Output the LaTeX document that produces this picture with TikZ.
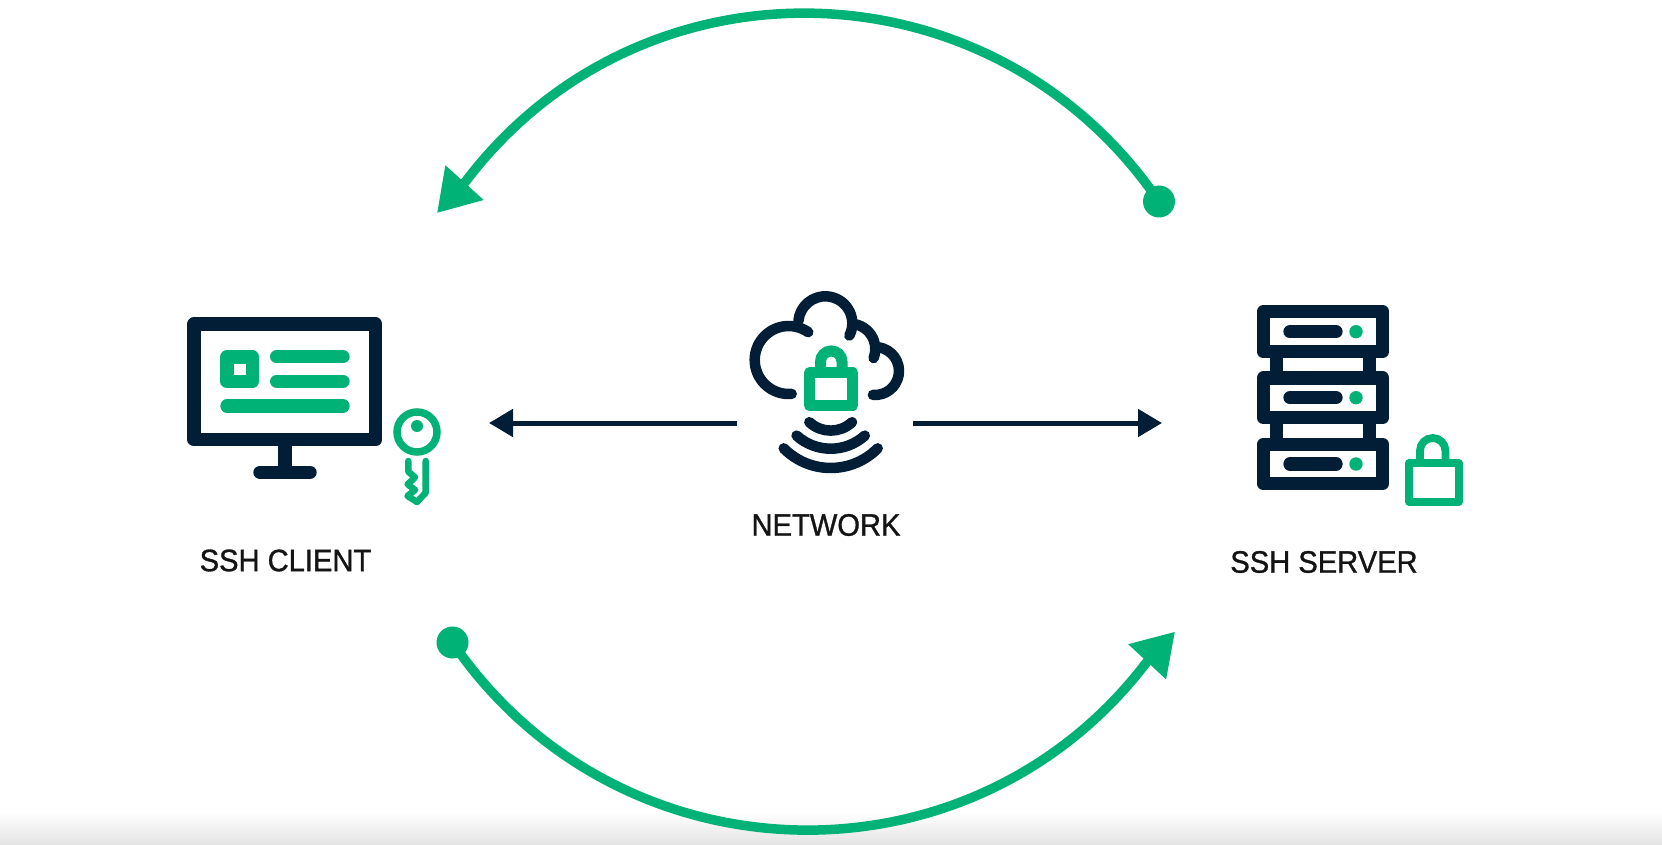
\documentclass[tikz,border=0pt]{standalone}
\usepackage{fontspec}
\setmainfont[FakeBold=1,FakeStretch=0.94]{Liberation Sans}
\usetikzlibrary{arrows.meta}
\definecolor{brandgreen}{HTML}{00B275}
\definecolor{navy}{HTML}{011E36}
\tikzset{
  labeltext/.style={font=\fontsize{31}{34}\selectfont, text=black!92, inner sep=0pt, anchor=center},
  dotend/.style={circle, fill=brandgreen, inner sep=0pt, minimum size=32pt},
  bigarc/.style={draw=brandgreen, line width=9.5pt, -{Triangle[length=41pt,width=49pt,fill=brandgreen]}},
  netarrow/.style={draw=navy, line width=5pt, -{Triangle[length=24pt,width=27pt,fill=navy]}},
  navyline/.style={draw=navy, line cap=round, line join=round},
  greenline/.style={draw=brandgreen, line cap=round, line join=round},
}
\begin{document}
\begin{tikzpicture}[x=1pt,y=1pt,yscale=-1]
\useasboundingbox (0,0) rectangle (1662,845);
\fill[white] (0,0) rectangle (1662,845);
\shade[top color=black!11,bottom color=white,shading angle=180] (0,812) rectangle (1662,845);

% ---- big green arcs
\node[dotend] (dotTop) at (1159,201.5) {};
\coordinate (tipTop) at (437,213);
\coordinate (shaftTop) at (466,181);
\draw[bigarc] (dotTop.center) .. controls (994,-41) and (642,-51) .. (shaftTop) -- (tipTop);
\node[dotend] (dotBot) at (452.5,642.5) {};
\coordinate (tipBot) at (1175,631.7);
\coordinate (shaftBot) at (1146,663);
\draw[bigarc] (dotBot.center) .. controls (617.5,884) and (969.5,894) .. (shaftBot) -- (tipBot);

% ---- labels
\node[labeltext] (clientLabel) at (285.5,560.5) {SSH CLIENT};
\node[labeltext] (networkLabel) at (826,525) {NETWORK};
\node[labeltext] (serverLabel) at (1324,562) {SSH SERVER};

% ---- network arrows
\coordinate (netL) at (737,423);
\coordinate (netR) at (913,423);
\coordinate (clientEnd) at (489,423);
\coordinate (serverEnd) at (1162,423);
\draw[netarrow] (netL) -- (clientEnd);
\draw[netarrow] (netR) -- (serverEnd);

% ---- monitor
\draw[navyline, line width=13.5pt] (194.2,324) rectangle (375.7,439.7);
\draw[navy, line width=13.4pt] (285,446) -- (285,472);
\draw[navyline, line width=13.4pt] (260,472.3) -- (310,472.3);
\draw[greenline, line width=13.4pt] (227,356.8) rectangle (252.2,381.5);
\draw[greenline, line width=13.4pt] (276.7,356.7) -- (343,356.7);
\draw[greenline, line width=13.4pt] (276.7,381.3) -- (343,381.3);
\draw[greenline, line width=13.4pt] (227,406) -- (343,406);

% ---- key
\draw[brandgreen, line width=7.5pt] (417,432) circle[radius=20];
\fill[brandgreen] (417,426) circle[radius=6];
\draw[greenline, line width=6.5pt] (425.7,461) -- (425.7,492.7) -- (417,502) -- (407.5,496)
  -- (415,490) -- (407.7,484.3) -- (415,477.3) -- (408.3,471.7) -- (408.3,461);

% ---- cloud
\draw[navyline, line width=10.5pt] (788.7,360) ++(85:34) arc[start angle=85,end angle=305,radius=34];
\draw[navyline, line width=10.5pt] (825.3,323.3) ++(185:27) arc[start angle=185,end angle=387,radius=27];
\draw[navyline, line width=10.5pt] (850,349) ++(281:25.3) arc[start angle=281,end angle=381,radius=25.3];
\draw[navyline, line width=10.5pt] (875,371) ++(280:24) arc[start angle=280,end angle=455,radius=24];
% ---- cloud lock
\fill[white] (804,367) rectangle (858,411);
\draw[greenline, line width=11pt] (809.5,372.8) rectangle (852.8,405.5);
\draw[brandgreen, line width=11pt] (820.5,372.8) -- (820.5,361.7) arc[start angle=180,end angle=360,radius=10.75] -- (842,372.8);
% ---- waves
\draw[navyline, line width=10.5pt] (830.7,399.3) ++(47:31.3) arc[start angle=47,end angle=133,radius=31.3];
\draw[navyline, line width=10.5pt] (830.7,397.7) ++(48:51) arc[start angle=48,end angle=132,radius=51];
\draw[navyline, line width=10.5pt] (830.7,402) ++(44.6:66) arc[start angle=44.6,end angle=135.4,radius=66];

% ---- server
\foreach \top/\bot/\mid in {311.7/351.7/331.7, 378/417.7/397.7, 444.3/483.7/464}{
  \draw[navyline, line width=13.3pt] (1263.3,\top) rectangle (1382.7,\bot);
  \draw[navyline, line width=13.3pt] (1290,\mid) -- (1336,\mid);
  \fill[brandgreen] (1356,\mid) circle[radius=6.7];
}
\foreach \a/\b in {351.7/378, 417.7/444.3}{
  \draw[navy, line width=13.3pt] (1276.7,\a) -- (1276.7,\b);
  \draw[navy, line width=13.3pt] (1369.3,\a) -- (1369.3,\b);
}
% ---- server lock
\draw[greenline, line width=7.8pt] (1409,463) rectangle (1458.8,501.7);
\draw[brandgreen, line width=7.8pt] (1420,463) -- (1420,450.7) arc[start angle=180,end angle=360,radius=12.7] -- (1445.4,463);
\end{tikzpicture}
\end{document}
